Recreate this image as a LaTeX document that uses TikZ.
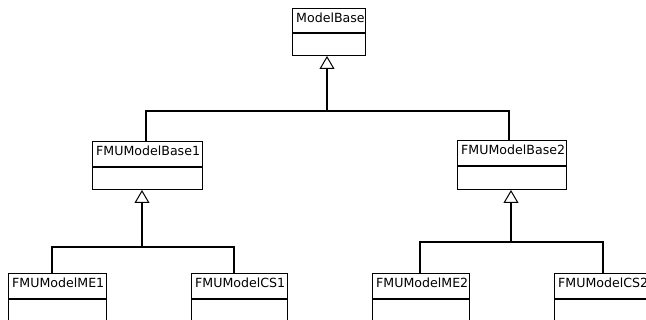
\documentclass[tikz,border=0pt]{standalone}
\usepackage{fontspec}
\setmainfont{DejaVu Sans}
\usetikzlibrary{arrows.meta}
\begin{document}
\begin{tikzpicture}[x=1pt,y=-1pt,
  clsbox/.style={draw=black, line width=1pt, anchor=north west, inner sep=0pt, fill=white},
  clstext/.style={anchor=base west, inner sep=0pt, font=\fontsize{12.6}{15}\selectfont},
  sep/.style={line width=2pt},
  conn/.style={line width=1.2pt},
  gen/.style={line width=1.2pt, -{Triangle[open, length=13pt, width=15pt, line width=1pt]}}
]
\useasboundingbox (0,0) rectangle (646,320);
\clip (0,0) rectangle (646,320);
\fill[white] (0,0) rectangle (646,320);

% class boxes
\node[clsbox, minimum width=73pt, minimum height=47pt] (mb) at (292,8) {};
\node[clstext] (mbt) at (296,23) {ModelBase};
\draw[sep] (mb.west |- 0,33) -- (mb.east |- 0,33);

\node[clsbox, minimum width=110pt, minimum height=48pt] (fb1) at (92,141) {};
\node[clstext] (fb1t) at (96,156) {FMUModelBase1};
\draw[sep] (fb1.west |- 0,167) -- (fb1.east |- 0,167);

\node[clsbox, minimum width=109pt, minimum height=49pt] (fb2) at (457,140) {};
\node[clstext] (fb2t) at (461,155) {FMUModelBase2};
\draw[sep] (fb2.west |- 0,166) -- (fb2.east |- 0,166);

\node[clsbox, minimum width=98pt, minimum height=60pt] (me1) at (8,273) {};
\node[clstext] (me1t) at (12,288) {FMUModelME1};
\draw[sep] (me1.west |- 0,299) -- (me1.east |- 0,299);

\node[clsbox, minimum width=96pt, minimum height=60pt] (cs1) at (191,273) {};
\node[clstext] (cs1t) at (195,288) {FMUModelCS1};
\draw[sep] (cs1.west |- 0,299) -- (cs1.east |- 0,299);

\node[clsbox, minimum width=97pt, minimum height=60pt] (me2) at (372,273) {};
\node[clstext] (me2t) at (376,288) {FMUModelME2};
\draw[sep] (me2.west |- 0,299) -- (me2.east |- 0,299);

\node[clsbox, minimum width=98pt, minimum height=60pt] (cs2) at (554,273) {};
\node[clstext] (cs2t) at (558,288) {FMUModelCS2};
\draw[sep] (cs2.west |- 0,299) -- (cs2.east |- 0,299);

% junction coordinates
\coordinate (j0) at (327,111);
\coordinate (j0l) at (146,111);
\coordinate (j0r) at (509,111);
\coordinate (j1) at (142,247);
\coordinate (j1l) at (52,247);
\coordinate (j1r) at (234,247);
\coordinate (j2) at (511,242);
\coordinate (j2l) at (420,242);
\coordinate (j2r) at (603,242);

% top level generalization
\draw[conn] (j0l |- fb1.north) -- (j0l) -- (j0r) -- (j0r |- fb2.north);
\draw[gen] (j0) -- (j0 |- mb.south);

% left subtree
\draw[conn] (j1l |- me1.north) -- (j1l) -- (j1r) -- (j1r |- cs1.north);
\draw[gen] (j1) -- (j1 |- fb1.south);

% right subtree
\draw[conn] (j2l |- me2.north) -- (j2l) -- (j2r) -- (j2r |- cs2.north);
\draw[gen] (j2) -- (j2 |- fb2.south);
\end{tikzpicture}
\end{document}
